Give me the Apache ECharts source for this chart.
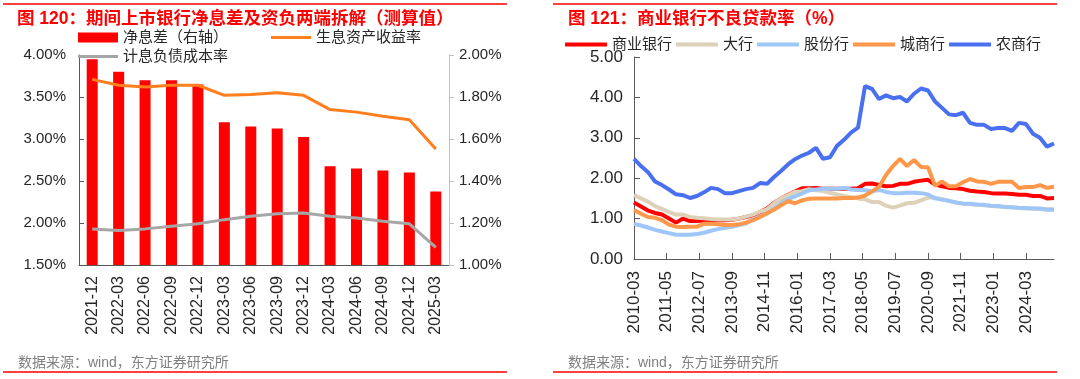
<!DOCTYPE html>
<html><head><meta charset="utf-8">
<script src="https://cdn.jsdelivr.net/npm/echarts@6/dist/echarts.min.js"></script>
<style>html,body{margin:0;padding:0;background:#fff;}#c{width:1080px;height:379px;}</style>
</head><body><div id="c"></div>
<script>
// ---- Chart 120 data ----
const nimCats = ['2021-12','2022-03','2022-06','2022-09','2022-12','2023-03','2023-06','2023-09','2023-12','2024-03','2024-06','2024-09','2024-12','2025-03'];
const nim = [1.98,1.92,1.88,1.88,1.86,1.68,1.66,1.65,1.61,1.47,1.46,1.45,1.44,1.35];
const yieldRate = [3.71,3.64,3.62,3.64,3.64,3.52,3.53,3.55,3.52,3.35,3.32,3.27,3.23,2.88];
const costRate = [1.93,1.91,1.93,1.96,1.99,2.04,2.08,2.11,2.12,2.08,2.06,2.02,1.99,1.71];

// ---- Chart 121 data (quarterly, 2010-03 .. 2025-03) ----
const nplCommercial = [1.40,1.30,1.20,1.14, 1.10,1.00,0.90,1.00, 0.94,0.94,0.95,0.95, 0.96,0.96,0.97,1.00, 1.04,1.08,1.16,1.25, 1.39,1.50,1.59,1.67, 1.75,1.75,1.76,1.74, 1.74,1.74,1.74,1.74, 1.75,1.86,1.87,1.83, 1.80,1.81,1.86,1.86, 1.91,1.94,1.96,1.84, 1.80,1.76,1.75,1.73, 1.69,1.67,1.66,1.63, 1.62,1.62,1.61,1.59, 1.59,1.56,1.56,1.50, 1.51];
const nplLarge = [1.58,1.50,1.42,1.31, 1.24,1.16,1.10,1.10, 1.04,1.02,1.01,0.99, 0.98,0.98,0.98,1.00, 1.05,1.10,1.17,1.23, 1.38,1.50,1.58,1.66, 1.68,1.73,1.70,1.68, 1.64,1.60,1.56,1.53, 1.50,1.48,1.41,1.41, 1.32,1.27,1.32,1.38, 1.39,1.45,1.52,1.52, 1.48,1.44,1.40,1.37, 1.36,1.34,1.33,1.31, 1.30,1.29,1.28,1.26, 1.25,1.25,1.24,1.23, 1.23];
const nplJoint = [0.87,0.83,0.78,0.72, 0.68,0.64,0.60,0.60, 0.60,0.62,0.65,0.70, 0.74,0.77,0.80,0.84, 0.88,0.98,1.05,1.12, 1.25,1.38,1.48,1.55, 1.62,1.70,1.72,1.74, 1.74,1.74,1.76,1.72, 1.71,1.70,1.68,1.71, 1.66,1.63,1.63,1.64, 1.64,1.63,1.60,1.50, 1.47,1.44,1.40,1.37, 1.37,1.35,1.34,1.32, 1.31,1.29,1.28,1.26, 1.26,1.25,1.25,1.22, 1.22];
const nplCity = [1.21,1.12,1.04,1.02, 0.96,0.85,0.80,0.79, 0.80,0.80,0.87,0.87, 0.86,0.84,0.84,0.86, 0.90,0.96,1.04,1.13, 1.22,1.33,1.43,1.38, 1.45,1.49,1.50,1.50, 1.50,1.50,1.51,1.51, 1.52,1.57,1.67,1.79, 2.08,2.30,2.48,2.30, 2.45,2.28,2.27,1.81, 1.92,1.80,1.80,1.90, 1.98,1.92,1.91,1.86, 1.91,1.91,1.91,1.76, 1.78,1.78,1.83,1.76, 1.79];
const nplRural = [2.48,2.30,2.15,1.92, 1.83,1.72,1.60,1.58, 1.51,1.56,1.65,1.76, 1.73,1.63,1.63,1.68, 1.73,1.76,1.88,1.86, 2.03,2.18,2.34,2.47, 2.56,2.63,2.75,2.48, 2.52,2.80,2.95,3.13, 3.25,4.28,4.21,3.96, 4.05,3.98,4.01,3.90, 4.09,4.22,4.17,3.90, 3.74,3.58,3.56,3.62, 3.37,3.32,3.32,3.22, 3.24,3.24,3.17,3.37, 3.34,3.10,3.00,2.78, 2.86];

// monthly category axis 2010-03 .. 2025-03
const months = [];
for (let y = 2010, m = 3; y < 2025 || (y === 2025 && m <= 3); ) {
  months.push(y + '-' + String(m).padStart(2, '0'));
  m++; if (m > 12) { m = 1; y++; }
}
function toMonthly(q) {
  const out = months.map(() => null);
  q.forEach((v, i) => { out[i * 3] = v; });
  return out;
}

const FONT = '"Liberation Sans", "Noto Sans CJK SC", sans-serif';
const TXT = '#262626';
const LINE3 = 'path://M0 0H40V3H0Z';
const LINE4 = 'path://M0 0H42V4H0Z';

const chart = echarts.init(document.getElementById('c'), null, {renderer: 'canvas'});
const pct = v => v.toFixed(2) + '%';

function npLine(name, data, color) {
  return {
    name, type: 'line', xAxisIndex: 1, yAxisIndex: 2,
    data: toMonthly(data), connectNulls: true, symbol: 'none',
    lineStyle: {width: 4, color}, itemStyle: {color}
  };
}

chart.setOption({
  animation: false,
  textStyle: {fontFamily: FONT},
  title: [
    {text: '图 120：期间上市银行净息差及资负两端拆解（测算值）', left: 12, top: 5,
     textStyle: {color: '#ff0000', fontSize: 17.5, fontWeight: 'bold', fontFamily: FONT}},
    {text: '图 121：商业银行不良贷款率（%）', left: 563, top: 5,
     textStyle: {color: '#ff0000', fontSize: 17.5, fontWeight: 'bold', fontFamily: FONT}},
    {text: '数据来源：wind，东方证券研究所', left: 13, top: 351,
     textStyle: {color: '#808080', fontSize: 14, fontWeight: 'normal', fontFamily: FONT}},
    {text: '数据来源：wind，东方证券研究所', left: 563, top: 351,
     textStyle: {color: '#808080', fontSize: 14, fontWeight: 'normal', fontFamily: FONT}}
  ],
  graphic: [
    {type: 'line', shape: {x1: 3, y1: 4, x2: 507, y2: 4}, style: {stroke: '#ff0000', lineWidth: 1.5}},
    {type: 'line', shape: {x1: 3, y1: 372, x2: 507, y2: 372}, style: {stroke: '#ff0000', lineWidth: 1.5}},
    {type: 'line', shape: {x1: 553, y1: 4, x2: 1057, y2: 4}, style: {stroke: '#ff0000', lineWidth: 1.5}},
    {type: 'line', shape: {x1: 553, y1: 372, x2: 1057, y2: 372}, style: {stroke: '#ff0000', lineWidth: 1.5}}
  ],
  legend: [
    {left: 78, top: 30, itemGap: 43, itemWidth: 40, itemHeight: 10, padding: 0,
     textStyle: {fontSize: 15, color: TXT, fontFamily: FONT},
     data: [{name: '净息差（右轴）', icon: 'rect'}, {name: '生息资产收益率', icon: LINE3}]},
    {left: 78, top: 49, itemWidth: 40, itemHeight: 10, padding: 0,
     textStyle: {fontSize: 15, color: TXT, fontFamily: FONT},
     data: [{name: '计息负债成本率', icon: LINE3}]},
    {left: 565, top: 37, itemGap: 4, itemWidth: 42, itemHeight: 10, padding: 0,
     textStyle: {fontSize: 15, color: TXT, fontFamily: FONT},
     data: ['商业银行', '大行', '股份行', '城商行', '农商行'].map(n => ({name: n, icon: LINE4}))}
  ],
  grid: [
    {left: 79, right: 631, top: 55, bottom: 114},
    {left: 634, right: 26, top: 57, bottom: 120}
  ],
  xAxis: [
    {type: 'category', gridIndex: 0, data: nimCats, boundaryGap: true,
     axisLine: {lineStyle: {color: '#595959'}},
     axisTick: {inside: true, length: 6, lineStyle: {color: '#595959'}},
     axisLabel: {rotate: 90, fontSize: 16, color: TXT, margin: 11, fontFamily: FONT}},
    {type: 'category', gridIndex: 1, data: months, boundaryGap: false,
     axisLine: {lineStyle: {color: '#595959'}},
     axisTick: {inside: true, length: 6, interval: 13, lineStyle: {color: '#595959'}},
     axisLabel: {rotate: 90, interval: 13, fontSize: 17, color: TXT, margin: 12, fontFamily: FONT}}
  ],
  yAxis: [
    {type: 'value', gridIndex: 0, min: 1.5, max: 4, interval: 0.5, position: 'left',
     splitLine: {show: false},
     axisLine: {show: true, lineStyle: {color: '#595959'}},
     axisTick: {show: true, inside: true, length: 5, lineStyle: {color: '#595959'}},
     axisLabel: {formatter: pct, fontSize: 15, color: TXT, margin: 13, fontFamily: FONT}},
    {type: 'value', gridIndex: 0, min: 1.0, max: 2.0, interval: 0.2, position: 'right',
     splitLine: {show: false},
     axisLine: {show: true, lineStyle: {color: '#bfbfbf'}},
     axisTick: {show: true, length: 5, lineStyle: {color: '#bfbfbf'}},
     axisLabel: {formatter: pct, fontSize: 15, color: TXT, margin: 10, fontFamily: FONT}},
    {type: 'value', gridIndex: 1, min: 0, max: 5, interval: 1,
     splitLine: {show: false},
     axisLine: {show: true, lineStyle: {color: '#595959'}},
     axisTick: {show: true, inside: true, length: 6, lineStyle: {color: '#595959'}},
     axisLabel: {formatter: v => v.toFixed(2), fontSize: 17, color: TXT, margin: 11, fontFamily: FONT}}
  ],
  series: [
    {name: '净息差（右轴）', type: 'bar', xAxisIndex: 0, yAxisIndex: 1, data: nim,
     barWidth: 11, itemStyle: {color: '#ff0000'}},
    {name: '生息资产收益率', type: 'line', xAxisIndex: 0, yAxisIndex: 0, data: yieldRate,
     symbol: 'none', lineStyle: {width: 3, color: '#ff7f1e'}, itemStyle: {color: '#ff7f1e'}},
    {name: '计息负债成本率', type: 'line', xAxisIndex: 0, yAxisIndex: 0, data: costRate,
     symbol: 'none', lineStyle: {width: 3, color: '#a6a6a6'}, itemStyle: {color: '#a6a6a6'}},
    npLine('商业银行', nplCommercial, '#ff0000'),
    npLine('大行', nplLarge, '#ddd1b9'),
    npLine('股份行', nplJoint, '#9fc6f8'),
    npLine('城商行', nplCity, '#ff974a'),
    npLine('农商行', nplRural, '#4a70f2')
  ]
});
</script>
</body></html>
